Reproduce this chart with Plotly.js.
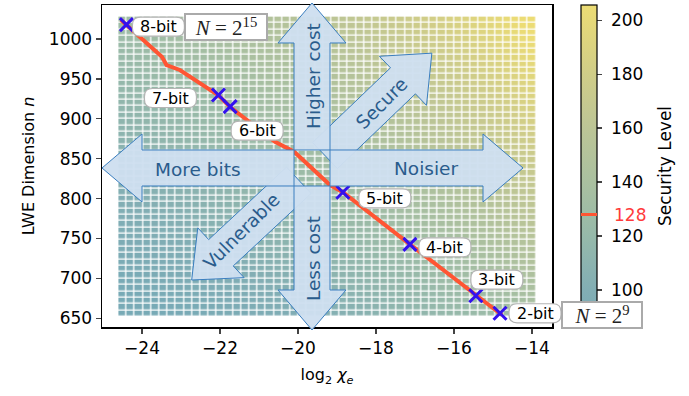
<!DOCTYPE html>
<html><head><meta charset="utf-8">
<script src="https://cdn.plot.ly/plotly-3.0.1.min.js"></script>
<style>html,body{margin:0;padding:0;background:#fff}</style>
</head><body><div id="chart" style="width:689px;height:396px"></div>
<script>
// ---------- data ----------
// heatmap grid (cell centres)
const logChiGrid = [-24.5,-24.29,-24.08,-23.87,-23.66,-23.45,-23.24,-23.03,-22.82,-22.61,-22.4,-22.19,-21.98,-21.77,-21.56,-21.35,-21.14,-20.93,-20.72,-20.51,-20.3,-20.09,-19.88,-19.67,-19.46,-19.25,-19.04,-18.83,-18.62,-18.41,-18.2,-17.99,-17.78,-17.57,-17.36,-17.15,-16.94,-16.73,-16.52,-16.31,-16.1,-15.89,-15.68,-15.47,-15.26,-15.05,-14.84,-14.63,-14.42,-14.21,-14.0];
const nGrid = [656,664,672,680,688,696,704,712,720,728,736,744,752,760,768,776,784,792,800,808,816,824,832,840,848,856,864,872,880,888,896,904,912,920,928,936,944,952,960,968,976,984,992,1000,1008,1016,1024];
// security level estimated from the picture's colours: lambda ~ K * n / (D - log2 chi)
const secK = 3.4, secD = 2.6;
const secZ = nGrid.map(n => logChiGrid.map(x => secK * n / (secD - x)));

// 128-bit security contour
const contourX = [-24.54,-23.49,-23.37,-23.03,-22.05,-21.74,-20.59,-20.10,-19.18,-18.85,-17.13,-15.44,-14.77];
const contourN = [1023.8,977.8,967.4,961.2,929.8,914.8,871.3,858.8,817.0,807.9,742.7,678.3,654.1];

// parameter sets
const bitLabels = ['8-bit','7-bit','6-bit','5-bit','4-bit','3-bit','2-bit'];
const bitX = [-24.4,-22.04,-21.74,-18.85,-17.13,-15.44,-14.82];
const bitN = [1018,929.8,915.2,807.9,742.7,678.3,656.3];

const xTicks = [-24,-22,-20,-18,-16,-14];
const yTicks = [650,700,750,800,850,900,950,1000];
const cbTicks = [100,120,140,160,180,200];
const secThreshold = 128;

// ---------- layout helpers (pixel geometry) ----------
const PL=102, PR=552, PT=5, PB=327, W=PR-PL, H=PB-PT;
const XR=[-25.026,-13.487], YR=[639.1,1042.6];
const px = v => (v-PL)/W, py = v => (PB-v)/H;
const dataPx = x => PL + (x-XR[0])/(XR[1]-XR[0])*W;
const dataPy = n => PB - (n-YR[0])/(YR[1]-YR[0])*H;
const labelOffsets = [[32,2],[-48,3],[27,24],[42,6],[35,3],[21,-16],[35,0]];

function arrowPath(cx, cy, ux, uy, t0, L, s, h, hl){
  const n = Math.hypot(ux,uy); ux/=n; uy/=n;
  const vx=-uy, vy=ux;
  const pts = [
    [cx+ux*t0+vx*s, cy+uy*t0+vy*s],
    [cx+ux*(L-hl)+vx*s, cy+uy*(L-hl)+vy*s],
    [cx+ux*(L-hl)+vx*h, cy+uy*(L-hl)+vy*h],
    [cx+ux*L, cy+uy*L],
    [cx+ux*(L-hl)-vx*h, cy+uy*(L-hl)-vy*h],
    [cx+ux*(L-hl)-vx*s, cy+uy*(L-hl)-vy*s],
    [cx+ux*t0-vx*s, cy+uy*t0-vy*s]];
  return 'M ' + pts.map(p => px(p[0]).toFixed(5)+','+py(p[1]).toFixed(5)).join(' L ') + ' Z';
}
function roundBox(cx, cy, w, h, r){
  const x0=cx-w/2, x1=cx+w/2, y0=cy-h/2, y1=cy+h/2;
  const P = (a,b) => px(a).toFixed(5)+','+py(b).toFixed(5);
  return 'M '+P(x0+r,y0)+' L '+P(x1-r,y0)+' Q '+P(x1,y0)+' '+P(x1,y0+r)+
    ' L '+P(x1,y1-r)+' Q '+P(x1,y1)+' '+P(x1-r,y1)+' L '+P(x0+r,y1)+' Q '+P(x0,y1)+' '+P(x0,y1-r)+
    ' L '+P(x0,y0+r)+' Q '+P(x0,y0)+' '+P(x0+r,y0)+' Z';
}
const CX=312, CY=168;
const arrowDefs = [
  [120,-115,18,166], [-120.3,112,18,164.4],   // diagonals first (below)
  [-1,0,18,210], [1,0,18,211], [0,-1,18,165], [0,1,18,162]
];
const shapes = arrowDefs.map(a => ({
  type:'path', xref:'paper', yref:'paper', layer:'above',
  path: arrowPath(CX,CY,a[0],a[1],a[2],a[3],18,34,40),
  fillcolor:'rgba(206,223,239,0.96)', line:{color:'#3a7ebf', width:1}
}));
bitLabels.forEach((t,i) => shapes.push({
  type:'path', xref:'paper', yref:'paper', layer:'above',
  path: roundBox(dataPx(bitX[i])+labelOffsets[i][0], dataPy(bitN[i])+labelOffsets[i][1], 52, 19, 8),
  fillcolor:'#ffffff', line:{color:'#b4b4b4', width:1.2}
}));

const arrowTextColor = '#2a5c8c';
const annotations = [];
bitLabels.forEach((t,i) => annotations.push({
  x: bitX[i], y: bitN[i], xref:'x', yref:'y', text:t, showarrow:false,
  xanchor:'center', yanchor:'middle',
  xshift: labelOffsets[i][0], yshift: -labelOffsets[i][1],
  font:{family:'DejaVu Sans', size:16, color:'#000'}
}));
const C = {xanchor:'center', yanchor:'middle', xref:'paper', yref:'paper', showarrow:false};
annotations.push(Object.assign({x:px(226), y:py(26.5),
  text:'<i>N</i> = 2<sup>15</sup>', font:{family:'Liberation Serif', size:21, color:'#222'},
  bgcolor:'#fff', bordercolor:'#aaaaaa', borderwidth:2, borderpad:1, width:78, height:22}, C));
annotations.push(Object.assign({x:px(601.5), y:py(315),
  text:'<i>N</i> = 2<sup>9</sup>', font:{family:'Liberation Serif', size:21, color:'#222'},
  bgcolor:'#fff', bordercolor:'#aaaaaa', borderwidth:2, borderpad:1, width:76, height:22}, C));
const arrowTexts = [
  ['More bits',198,169,0],['Noisier',425.5,168,0],['Higher cost',313,76,-90],
  ['Less cost',313,259,-90],['Secure',381.5,103.5,-45],['Vulnerable',241,231,-45]];
arrowTexts.forEach(a => annotations.push(Object.assign({x:px(a[1]), y:py(a[2]),
  text:a[0], textangle:a[3], font:{family:'DejaVu Sans', size:18.5, color:arrowTextColor}}, C)));
annotations.push(Object.assign({x:px(630), y:py(214.5),
  text:String(secThreshold), font:{family:'DejaVu Sans', size:17, color:'#ff3b3b'}}, C));
annotations.push(Object.assign({x:px(665), y:py(166), textangle:-90,
  text:'Security Level', font:{family:'DejaVu Sans', size:17, color:'#000'}}, C));
// red threshold mark drawn across the colorbar
annotations.push(Object.assign({x:px(589), y:py(214.4), text:' ', font:{size:2},
  bgcolor:'#ff5533', borderpad:0, borderwidth:0, width:16, height:3}, C));

const traces = [
  {type:'heatmap', x:logChiGrid, y:nGrid, z:secZ, zmin:86.3, zmax:205.6,
   xgap:1.3, ygap:1.3, hoverinfo:'skip',
   colorscale:[[0,'#78aab6'],[0.115,'#82aeb4'],[0.283,'#96b9aa'],[0.45,'#aac0a0'],[0.618,'#bcc596'],[0.786,'#d0cd88'],[1,'#ecdc74']],
   colorbar:{x:px(581), xanchor:'left', y:0.5, yanchor:'middle', len:1, lenmode:'fraction',
     thickness:16, thicknessmode:'pixels', xpad:0, ypad:0, outlinewidth:1.2, outlinecolor:'#000',
     tickvals:cbTicks, ticktext:cbTicks.map(v => '\u00a0' + v), ticks:'outside', ticklen:5, tickwidth:1.2,
     tickfont:{size:17, color:'#000'}}},
  {type:'scatter', mode:'lines', x:contourX, y:contourN, line:{color:'#ff5533', width:4}, hoverinfo:'skip'},
  {type:'scatter', mode:'markers', x:bitX, y:bitN, cliponaxis:false,
   marker:{symbol:'x-thin', size:13, color:'#3311ee', line:{color:'#3311ee', width:3}}, hoverinfo:'skip'}
];

const layout = {
  width:689, height:396, showlegend:false,
  margin:{l:PL, r:689-PR, t:PT, b:396-PB},
  paper_bgcolor:'#fff', plot_bgcolor:'#fff',
  font:{family:'DejaVu Sans', size:17, color:'#000'},
  xaxis:{range:XR, tickvals:xTicks, ticks:'outside', ticklen:5, tickwidth:1.2,
    showline:true, mirror:true, linewidth:1.5, linecolor:'#000', showgrid:false, zeroline:false,
    tickfont:{size:17}, title:{text:'log<sub>2</sub> <i>χ<sub>e</sub></i>', standoff:12, font:{size:16}}},
  yaxis:{range:YR, tickvals:yTicks, ticks:'outside', ticklen:5, tickwidth:1.2,
    showline:true, mirror:true, linewidth:1.5, linecolor:'#000', showgrid:false, zeroline:false,
    tickfont:{size:17}, title:{text:'LWE Dimension <i>n</i>', standoff:10, font:{size:16}}},
  shapes, annotations
};
Plotly.newPlot('chart', traces, layout, {staticPlot:true});
</script></body></html>
